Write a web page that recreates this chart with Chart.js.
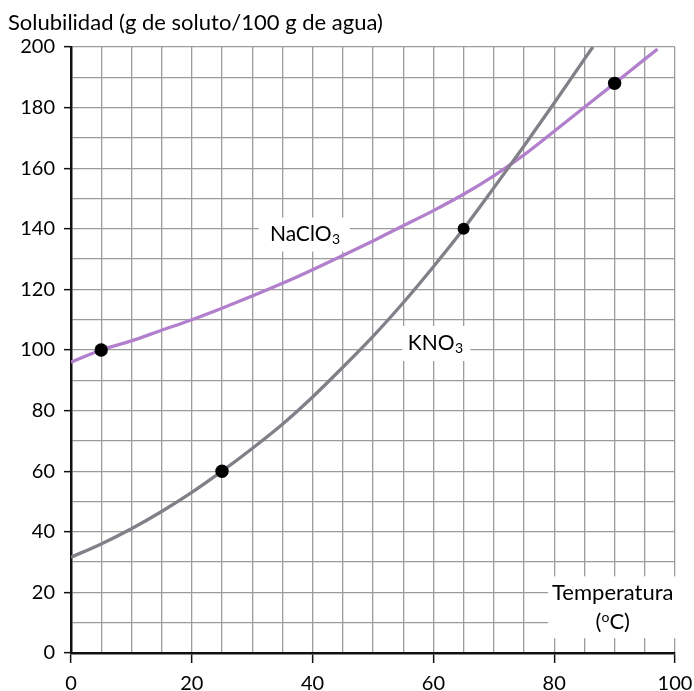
<!DOCTYPE html>
<html><head><meta charset="utf-8">
<script src="https://cdn.jsdelivr.net/npm/chart.js@4.4.0/dist/chart.umd.min.js"></script>
<style>html,body{margin:0;padding:0;background:#fff}canvas{display:block}</style>
</head><body>
<canvas id="c" width="694" height="691"></canvas>
<script>
// ---- data ----
const kno3Temps   = [0, 5, 10, 15, 20, 25, 30, 35, 40, 45, 50, 55, 60, 65, 70, 75, 80, 85, 86.4];
const kno3Values  = [31.6, 36, 41, 46.7, 53, 60, 67.5, 75.5, 84.5, 94.3, 104.5, 115.6, 127.5, 140, 153.5, 167.3, 181.5, 196, 200];
const naclo3Temps  = [0, 5, 10, 15, 20, 25, 30, 35, 40, 45, 50, 55, 60, 65, 70, 75, 80, 85, 90, 95, 97.1];
const naclo3Values = [96, 100, 103, 106.5, 110, 113.8, 117.8, 122, 126.5, 131.2, 136, 141, 146, 151.4, 157.5, 164.4, 172.2, 180.1, 188, 196, 199.3];
const markerTemps  = [5, 25, 65, 90];
const markerValues = [100, 60, 140, 188];
const xTickLabels = [0, 20, 40, 60, 80, 100];
const yTickLabels = [0, 20, 40, 60, 80, 100, 120, 140, 160, 180, 200];
const yTitle = 'Solubilidad (g de soluto/100 g de agua)';
const xTitle = ['Temperatura', '(', 'o', 'C)'];
const seriesNames = [['NaClO', '3'], ['KNO', '3']];

const FONT = 'Lato';
const toPts = (xs, ys) => xs.map((v, i) => ({x: v, y: ys[i]}));

const annotPlugin = {
  id: 'annot',
  beforeDatasetsDraw(chart) {
    const {ctx, scales: {x, y}} = chart;
    ctx.save();
    // white boxes behind labels
    ctx.fillStyle = '#fff';
    const box = (x0, x1, y0, y1) => ctx.fillRect(x0, y0, x1 - x0, y1 - y0);
    const nx = x.getPixelForValue(38.7), ny = y.getPixelForValue(138.1);
    box(nx - 46, nx + 45, ny - 17, ny + 17);
    const kx = x.getPixelForValue(60.3), ky = y.getPixelForValue(102.3);
    box(kx - 33, kx + 35, ky - 17, ky + 18);
    const tx = x.getPixelForValue(89.7);
    box(x.getPixelForValue(79.0), x.right + 6, y.getPixelForValue(25.3), y.getPixelForValue(4.9));

    ctx.fillStyle = '#000';
    ctx.textBaseline = 'middle';
    const sub = (main, s, cx, cy, size) => {
      const ss = Math.round(size * 0.66);
      ctx.font = size + 'px ' + FONT;
      const w1 = ctx.measureText(main).width;
      ctx.font = ss + 'px ' + FONT;
      const w2 = ctx.measureText(s).width;
      const left = cx - (w1 + w2) / 2;
      ctx.textAlign = 'left';
      ctx.font = size + 'px ' + FONT;
      ctx.fillText(main, left, cy);
      ctx.font = ss + 'px ' + FONT;
      ctx.fillText(s, left + w1 + 0.5, cy + size * 0.24);
    };
    sub(seriesNames[0][0], seriesNames[0][1], nx, ny, 21);
    sub(seriesNames[1][0], seriesNames[1][1], kx, ky, 21);

    // Temperatura (ºC)
    ctx.font = '22px ' + FONT;
    ctx.textAlign = 'center';
    ctx.fillText(xTitle[0], tx, y.getPixelForValue(19.8));
    const cy2 = y.getPixelForValue(10.2);
    const wA = ctx.measureText(xTitle[1]).width, wC = ctx.measureText(xTitle[3]).width;
    ctx.font = '14px ' + FONT;
    const wO = ctx.measureText(xTitle[2]).width;
    let lx = tx - (wA + wO + wC) / 2;
    ctx.textAlign = 'left';
    ctx.font = '22px ' + FONT;
    ctx.fillText(xTitle[1], lx, cy2);
    ctx.font = '14px ' + FONT;
    ctx.fillText(xTitle[2], lx + wA, cy2 - 5);
    ctx.font = '22px ' + FONT;
    ctx.fillText(xTitle[3], lx + wA + wO, cy2);
    ctx.restore();
  },
  afterDraw(chart) {
    const {ctx} = chart;
    ctx.save();
    ctx.fillStyle = '#000';
    ctx.font = '22px ' + FONT;
    ctx.textAlign = 'left';
    ctx.textBaseline = 'middle';
    ctx.fillText(yTitle, 8, 23);
    ctx.restore();
  }
};

const majorTick = (step) => (c) => (c.tick && Math.abs(c.tick.value % step) < 1e-9) ? '#111' : 'rgba(0,0,0,0)';

new Chart(document.getElementById('c'), {
  type: 'scatter',
  data: {
    datasets: [
      {label: 'NaClO3', data: toPts(naclo3Temps, naclo3Values), showLine: true, borderColor: '#B27FCC',
       borderWidth: 3.3, pointRadius: 0, cubicInterpolationMode: 'monotone', fill: false, order: 3},
      {label: 'KNO3', data: toPts(kno3Temps, kno3Values), showLine: true, borderColor: '#837F89',
       borderWidth: 3.3, pointRadius: 0, cubicInterpolationMode: 'monotone', fill: false, order: 2},
      {label: 'puntos', data: toPts(markerTemps, markerValues), showLine: false,
       pointRadius: [6.7, 6.7, 6, 6.7], pointBackgroundColor: '#000', pointBorderWidth: 0, order: 1}
    ]
  },
  options: {
    responsive: false,
    animation: false,
    layout: {padding: {top: 47, right: 19, left: 0, bottom: 0}},
    plugins: {legend: {display: false}, tooltip: {enabled: false}},
    scales: {
      x: {
        type: 'linear', min: 0, max: 100,
        afterFit: s => { s.height = 38; s.paddingLeft = 0; s.paddingRight = 0; },
        ticks: {stepSize: 5, autoSkip: false, maxRotation: 0, padding: 9, color: '#000',
          font: {family: FONT, size: 20},
          callback: v => xTickLabels.includes(v) ? String(v) : ''},
        grid: {color: '#9c9c9c', lineWidth: 1.3, tickLength: 10, tickWidth: 1.5, tickColor: majorTick(20)},
        border: {color: '#111', width: 2.5}
      },
      y: {
        type: 'linear', min: 0, max: 200,
        afterFit: s => { s.width = 71; s.paddingTop = 0; s.paddingBottom = 0; },
        ticks: {stepSize: 10, autoSkip: false, padding: 9, color: '#000',
          font: {family: FONT, size: 20},
          callback: v => yTickLabels.includes(v) ? String(v) : ''},
        grid: {color: '#9c9c9c', lineWidth: 1.3, tickLength: 7, tickWidth: 1.5, tickColor: majorTick(20)},
        border: {color: '#111', width: 2.5}
      }
    }
  },
  plugins: [annotPlugin]
});
</script>
</body></html>
